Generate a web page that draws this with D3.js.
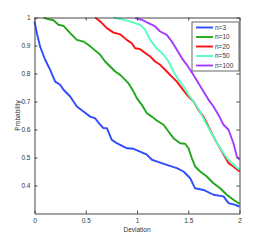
<!DOCTYPE html>
<html>
<head>
<meta charset="utf-8">
<script src="https://cdn.jsdelivr.net/npm/d3@7"></script>
<style>
  body { margin: 0; background: #fff; }
  text { font-family: "Liberation Sans", Arial, sans-serif; }
</style>
</head>
<body>
<svg id="chart" width="264" height="240"></svg>
<script>
// series names and colours
const names = ["n=3", "n=10", "n=20", "n=50", "n=100"];
const colors = ["#2f4cff", "#22a61c", "#ff1010", "#55ffc0", "#a43cff"];

// values: [deviation, probability]
const n3 = [[0,0.986],[0.023,0.944],[0.055,0.896],[0.104,0.849],[0.153,0.813],[0.202,0.771],[0.25,0.76],[0.283,0.742],[0.348,0.718],[0.413,0.682],[0.478,0.664],[0.543,0.646],[0.592,0.64],[0.641,0.617],[0.673,0.605],[0.706,0.605],[0.754,0.563],[0.803,0.551],[0.868,0.539],[0.9,0.533],[0.966,0.531],[1.03,0.521],[1.096,0.51],[1.145,0.492],[1.226,0.482],[1.291,0.474],[1.389,0.462],[1.454,0.45],[1.519,0.426],[1.567,0.39],[1.649,0.384],[1.746,0.367],[1.844,0.361],[1.893,0.337],[1.958,0.331],[2,0.325]];
const n10 = [[0.088,1],[0.12,0.995],[0.185,0.99],[0.234,0.974],[0.283,0.97],[0.348,0.944],[0.413,0.92],[0.478,0.914],[0.527,0.902],[0.576,0.887],[0.641,0.867],[0.689,0.843],[0.738,0.825],[0.787,0.807],[0.836,0.795],[0.885,0.777],[0.917,0.765],[0.966,0.736],[0.998,0.712],[1.047,0.688],[1.096,0.658],[1.145,0.646],[1.193,0.632],[1.259,0.617],[1.307,0.593],[1.356,0.569],[1.421,0.551],[1.47,0.549],[1.502,0.533],[1.535,0.498],[1.567,0.468],[1.616,0.45],[1.681,0.432],[1.746,0.408],[1.811,0.39],[1.876,0.367],[1.941,0.349],[2,0.335]];
const n20 = [[0.592,1],[0.641,0.986],[0.706,0.962],[0.771,0.946],[0.836,0.94],[0.9,0.92],[0.949,0.908],[0.982,0.89],[1.031,0.887],[1.08,0.873],[1.128,0.861],[1.177,0.843],[1.226,0.831],[1.291,0.807],[1.34,0.789],[1.389,0.771],[1.437,0.748],[1.486,0.724],[1.551,0.7],[1.6,0.67],[1.649,0.646],[1.698,0.61],[1.763,0.563],[1.828,0.521],[1.893,0.48],[1.941,0.468],[2,0.45]];
const n50 = [[0.771,1],[0.836,0.994],[0.9,0.989],[0.966,0.982],[1.031,0.974],[1.08,0.956],[1.128,0.92],[1.193,0.89],[1.259,0.867],[1.307,0.843],[1.356,0.807],[1.405,0.777],[1.454,0.754],[1.502,0.724],[1.551,0.7],[1.616,0.664],[1.681,0.617],[1.746,0.575],[1.811,0.533],[1.876,0.498],[1.941,0.474],[2,0.456]];
const n100 = [[0.982,0.998],[1.047,0.992],[1.112,0.98],[1.177,0.968],[1.226,0.95],[1.291,0.938],[1.34,0.914],[1.389,0.885],[1.437,0.855],[1.486,0.831],[1.551,0.795],[1.6,0.765],[1.649,0.736],[1.698,0.706],[1.746,0.682],[1.795,0.652],[1.844,0.617],[1.893,0.599],[1.941,0.551],[1.974,0.504],[2,0.492]];

const xTicks = [0, 0.5, 1, 1.5, 2];
const yTicks = [0.4, 0.5, 0.6, 0.7, 0.8, 0.9, 1];

const series = [n3, n10, n20, n50, n100];

const margin = {top: 17.5, right: 24.5, bottom: 26.5, left: 34.5};
const width = 264 - margin.left - margin.right;
const height = 240 - margin.top - margin.bottom;

const svg = d3.select("#chart");
const g = svg.append("g").attr("transform", `translate(${margin.left},${margin.top})`);

const x = d3.scaleLinear().domain([0, 2]).range([0, width]);
const y = d3.scaleLinear().domain([0.3, 1]).range([height, 0]);

const axisColor = "#444";

// lines
const line = d3.line().x(d => x(d[0])).y(d => y(d[1]));
g.selectAll(".series")
  .data(series)
  .join("path")
  .attr("d", line)
  .attr("fill", "none")
  .attr("stroke", (d, i) => colors[i])
  .attr("stroke-width", 1.9)
  .attr("stroke-linejoin", "round");

// axes, ticks inward, MATLAB box style
function styleAxis(sel) {
  sel.select(".domain").attr("stroke", axisColor);
  sel.selectAll(".tick line").attr("stroke", axisColor);
  sel.selectAll(".tick text").attr("fill", "#333").style("font-size", "6.5px");
}
g.append("g")
  .attr("transform", `translate(0,${height})`)
  .call(d3.axisBottom(x).tickValues(xTicks).tickSize(-3).tickSizeOuter(0).tickPadding(5).tickFormat(d3.format("")))
  .call(styleAxis);
g.append("g")
  .call(d3.axisTop(x).tickValues(xTicks).tickSize(-3).tickSizeOuter(0).tickFormat(""))
  .call(styleAxis);
g.append("g")
  .call(d3.axisLeft(y).tickValues(yTicks).tickSize(-3).tickSizeOuter(0).tickPadding(4).tickFormat(d3.format("")))
  .call(styleAxis);
g.append("g")
  .attr("transform", `translate(${width},0)`)
  .call(d3.axisRight(y).tickValues(yTicks).tickSize(-3).tickSizeOuter(0).tickFormat(""))
  .call(styleAxis);

// axis labels
svg.append("text")
  .attr("x", margin.left + width / 2)
  .attr("y", 232)
  .attr("text-anchor", "middle")
  .style("font-size", "6.5px")
  .attr("fill", "#333")
  .text("Deviation");
svg.append("text")
  .attr("transform", `translate(20,${margin.top + height / 2}) rotate(-90)`)
  .attr("text-anchor", "middle")
  .style("font-size", "6.5px")
  .attr("fill", "#333")
  .text("Probability");

// legend
const lg = svg.append("g").attr("transform", "translate(192,22)");
lg.append("rect")
  .attr("width", 47).attr("height", 49)
  .attr("fill", "#fff").attr("stroke", axisColor).attr("stroke-width", 0.8);
names.forEach((nm, i) => {
  const yy = 5.5 + i * 9.5;
  lg.append("line")
    .attr("x1", 4).attr("x2", 21).attr("y1", yy).attr("y2", yy)
    .attr("stroke", colors[i]).attr("stroke-width", 1.9);
  lg.append("text")
    .attr("x", 23).attr("y", yy + 2.3)
    .style("font-size", "6.5px").attr("fill", "#333")
    .text(nm);
});
</script>
</body>
</html>
